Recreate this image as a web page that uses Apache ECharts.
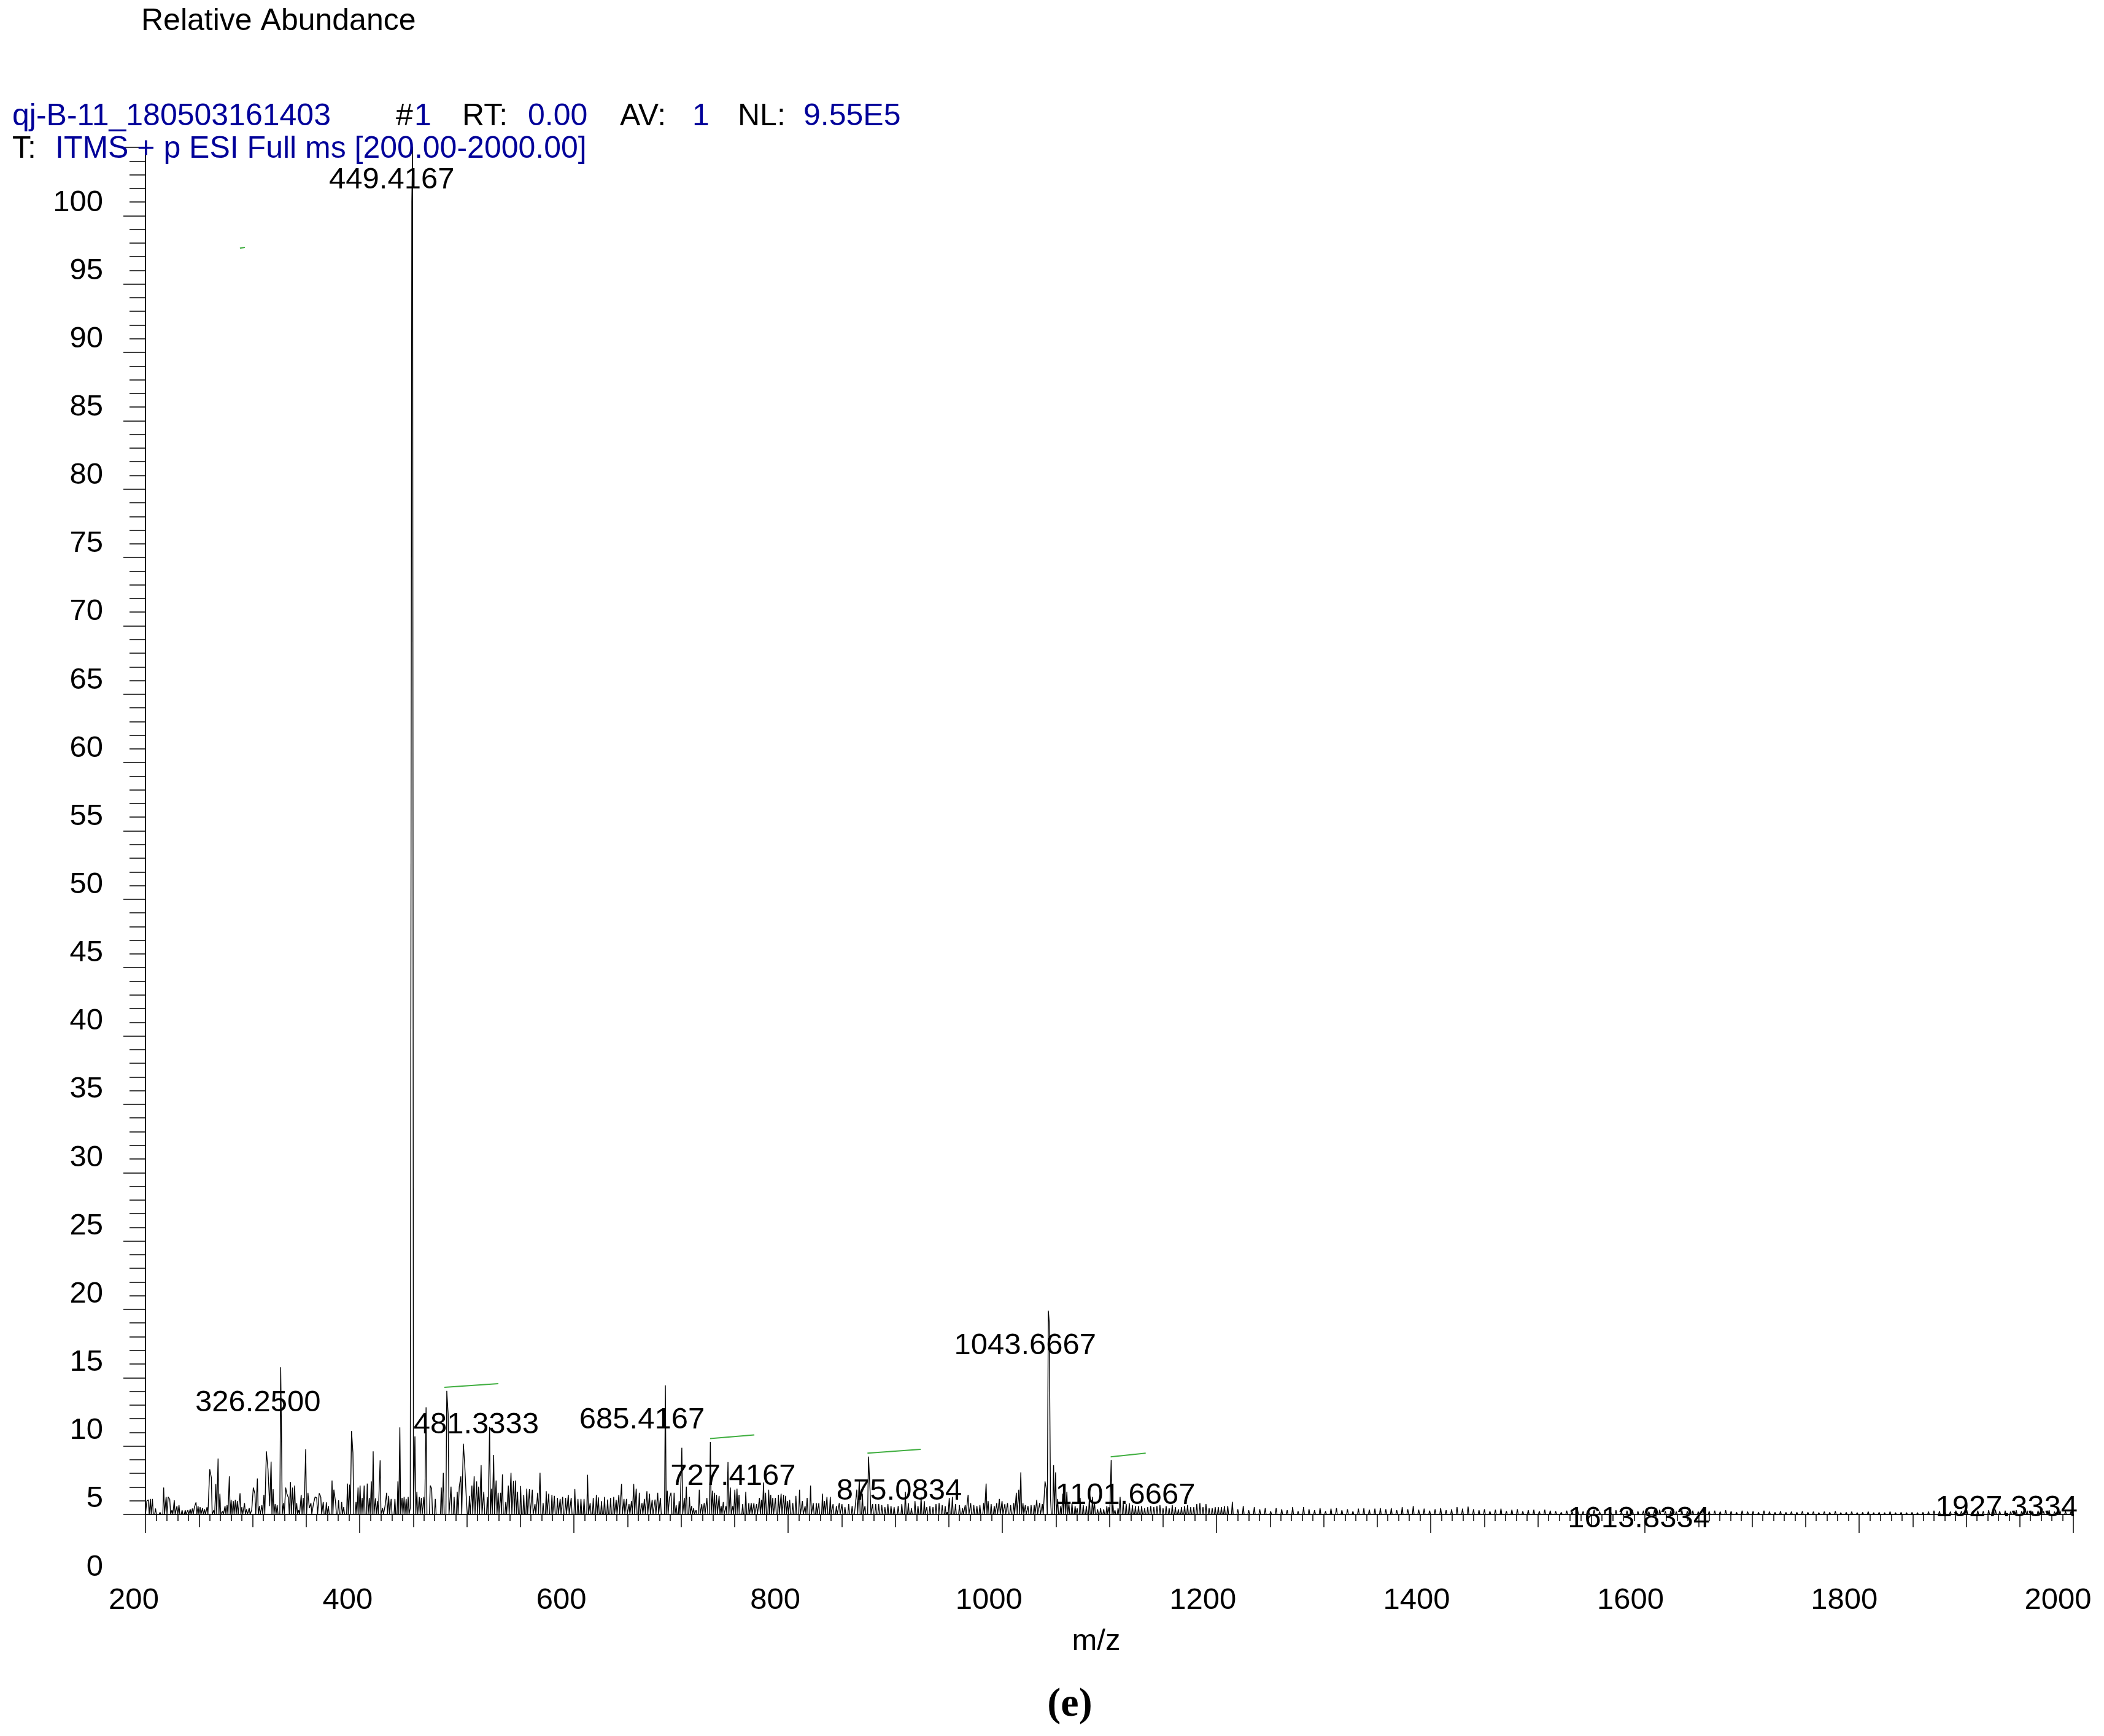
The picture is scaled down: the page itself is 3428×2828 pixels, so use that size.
<!DOCTYPE html>
<html>
<head>
<meta charset="utf-8">
<script src="https://cdn.jsdelivr.net/npm/echarts@6/dist/echarts.min.js"></script>
<style>
html,body{margin:0;padding:0;background:#fff;}
#chart{width:3428px;height:2828px;}
</style>
</head>
<body>
<div id="chart"></div>
<script>
// ---------------- DATA (m/z, relative abundance) ----------------
const zoneA = [
[201.3,0.98],[202.7,1.06],[204.6,1.13],[206.5,1.13],[209.4,0.43],[213.6,0.16],[217.0,1.96],[219.3,1.28],[221.2,1.28],[222.7,1.09],
[224.7,0.31],[226.9,1.03],[229.4,0.61],[231.3,0.68],[234.2,0.31],[237.1,0.31],[239.6,0.31],[241.8,0.38],[243.8,0.43],[245.7,0.53],
[247.2,0.88],[249.1,0.61],[251.0,0.53],[253.3,0.46],[255.2,0.38],[257.5,0.53],[260.0,3.30],[261.5,2.70],[263.8,0.31],[265.7,2.22],
[267.8,4.09],[269.5,1.51],[272.0,0.23],[274.3,0.61],[276.2,0.68],[278.3,2.78],[280.0,1.06],[282.0,0.98],[283.9,1.06],[285.8,0.98],
[288.3,1.55],[290.0,0.53],[292.5,0.83],[294.4,0.38],[296.9,0.46],[299.2,0.31],[300.7,1.96],[302.2,1.51],[304.5,2.63],[306.4,0.61],
[308.7,0.68],[310.6,1.43],[312.9,4.61],[314.4,3.30],[316.0,0.61],[317.3,3.86],[319.2,1.84],[321.1,0.76],[323.0,0.68],[326.25,10.76],
[326.9,6.67],[328.8,0.83],[330.9,1.96],[332.0,1.51],[333.5,1.21],[335.4,2.37],[337.4,1.96],[339.3,2.11],[341.2,0.83],[343.1,0.31],
[345.4,1.43],[347.3,1.21],[349.6,4.76],[351.7,1.58],[353.0,0.46],[354.5,0.83],[356.8,0.76],[358.4,1.28],[359.9,1.21],[362.2,1.55],
[363.7,1.28],[366.0,0.91],[368.9,0.88],[370.8,0.61],[374.2,2.48],[375.9,1.81],[377.5,0.88],[380.3,1.03],[383.2,0.91],[385.1,0.53],
[388.6,2.26],[390.5,2.18],[392.4,6.10],[393.7,4.50],[396.6,0.91],[398.5,1.96],[400.4,2.11],[402.3,1.21],[404.2,2.11],[407.1,2.26],
[409.0,1.21],[410.9,2.41],[412.6,4.61],[414.7,1.18],[416.6,0.98],[419.1,3.95],[421.4,0.46],[423.7,0.61],[425.2,1.58],[427.1,1.36],
[429.4,1.13],[432.9,1.13],[435.7,2.41],[437.5,6.37],[439.6,1.21],[441.5,1.28],[443.4,1.13],[445.3,1.28],[447.2,0.46],[448.7,96.0],
[449.42,100],[451.6,5.70]
];
const zoneB = [
[453.4,1.66],[455.7,1.28],[457.6,1.21],[459.9,1.28],[462.0,7.84],[465.9,2.11],[467.2,1.88],[470.6,1.13],[476.2,1.96],[478.1,3.04],
[481.33,9.04],[482.6,7.35],[485.3,2.03],[488.2,1.28],[491.1,1.66],[493.0,2.03],[494.5,2.78],[496.8,5.17],[498.1,3.60],[499.7,0.98],
[502.5,1.36],[504.8,2.11],[506.9,2.78],[509.2,2.41],[511.1,2.03],[513.4,3.60],[515.9,1.66],[519.2,1.28],[521.3,6.40],[523.0,1.88],
[525.1,4.35],[527.4,2.48],[529.3,1.58],[531.6,1.58],[533.3,2.93],[536.4,0.91],[538.8,2.11],[541.3,3.05],[543.6,2.45],[545.5,2.48],
[547.4,1.66],[550.3,2.08],[553.2,1.43],[556.0,1.88],[558.5,1.84],[561.2,1.81],[563.7,0.76],[566.2,1.58],[568.4,3.05],[571.3,0.83],
[574.2,1.69],[576.5,1.51],[579.5,1.43],[581.8,1.36],[584.7,1.21],[587.2,1.13],[589.5,1.28],[592.3,1.21],[594.8,1.43],[597.5,1.21],
[600.9,1.85],[603.8,1.13],[606.6,1.13],[609.5,1.13],[612.8,2.90],[615.2,0.83],[618.1,1.21],[621.0,1.43],[622.9,1.24],[625.8,0.98],
[628.6,1.28],[631.5,1.09],[634.3,1.21],[637.2,1.28],[639.5,1.06],[642.0,1.43],[644.5,2.23],[646.8,1.13],[649.1,1.13],[651.5,0.76],
[653.8,0.98],[655.9,2.23],[658.2,1.88],[661.1,1.58],[663.6,0.83],[665.9,1.13],[668.2,1.69],[670.6,1.51],[673.1,1.06],[675.8,1.09],
[678.3,1.58],[680.8,1.21],[685.42,9.44],[687.2,1.73],[689.2,1.21],[690.7,1.58],[693.6,1.58],[695.5,0.68],[698.3,0.98],[700.8,4.87],
[703.1,1.21],[705.0,2.03]
];
const zoneC = [
[707.9,1.28],[709.9,0.61],[711.8,0.46],[714.1,0.31],[717.1,1.81],[719.4,0.76],[721.7,0.83],[724.2,1.21],[727.42,5.30],[729.3,1.73],
[731.2,1.58],[733.2,1.43],[735.6,1.36],[737.5,0.61],[739.5,0.91],[742.0,0.61],[743.9,3.83],[746.1,1.96],[748.4,0.61],[750.3,1.81],
[752.3,1.88],[754.2,1.43],[757.6,0.76],[760.5,1.66],[763.3,0.83],[765.6,0.83],[768.1,0.83],[770.6,0.76],[773.3,1.21],[775.2,1.06],
[777.1,2.33],[779.0,1.58],[781.9,1.81],[783.8,1.43],[785.7,1.21],[788.2,1.21],[791.0,1.43],[793.5,1.51],[795.8,1.43],[797.7,1.36],
[799.6,0.98],[801.5,1.06],[804.4,0.83],[807.3,1.36],[810.7,1.81],[813.4,0.98],[815.9,0.61],[817.8,1.21],[821.0,2.11],[823.5,0.83],
[826.4,0.83],[828.7,0.83],[832.1,1.51],[834.0,0.98],[836.3,1.28],[839.4,1.28],[842.0,0.76],[845.1,0.61],[847.8,0.83],[850.3,0.76],
[853.1,0.53],[856.6,0.76],[859.8,0.61],[862.7,0.61],[864.2,1.81],[866.5,2.56],[869.4,1.51],[871.8,0.61],[875.08,4.23],[876.6,1.66],
[878.9,0.76],[881.8,0.76],[884.6,0.76],[887.5,0.68],[890.4,0.53],[893.2,0.76],[896.1,0.61],[899.0,0.53],[902.8,0.61],[906.2,0.76],
[909.5,1.66],[912.3,0.83],[915.2,0.46],[918.5,0.98],[921.3,0.61],[924.2,1.28],[927.2,0.98],[929.5,0.53],[932.4,0.61],[935.3,0.53],
[938.1,0.76],[941.0,0.83],[943.9,0.68],[946.7,0.61],[948.6,0.16],[950.5,1.21],[953.4,1.28],[956.3,0.76]
];
const zoneD = [
[960.0,0.68],[962.9,0.46],[965.4,0.68],[968.1,1.43],[970.5,0.83],[973.4,0.68],[976.3,0.61],[979.1,0.68],[982.6,0.83],[984.9,2.26],
[986.8,0.98],[989.6,0.76],[992.5,0.61],[994.8,0.83],[997.3,1.13],[999.8,0.98],[1002.4,0.76],[1004.9,0.83],[1007.8,0.68],[1010.7,0.83],
[1013.1,1.58],[1015.4,1.81],[1017.3,3.08],[1019.3,0.83],[1021.5,0.68],[1024.0,0.61],[1026.9,0.68],[1029.8,0.68],[1032.2,1.06],[1034.9,0.83],
[1037.4,0.76],[1039.9,2.41],[1041.2,1.81],[1043.0,14.9],[1043.8,14.1],[1045.0,1.21],[1047.9,3.60],[1049.8,3.08],[1051.7,1.13],[1054.6,0.61],
[1056.5,1.51],[1058.4,1.81],[1060.3,1.66],[1062.2,0.83],[1065.1,0.83],[1068.0,0.61],[1069.9,0.46],[1072.7,1.21],[1075.6,0.68],[1078.5,0.61],
[1081.3,1.21],[1084.2,1.28],[1086.1,0.91],[1089.0,0.38],[1091.8,0.46],[1094.7,0.38],[1097.6,0.61],[1099.5,0.53],[1101.67,3.98],[1103.3,0.76],
[1105.2,0.31],[1108.1,0.46],[1110.0,1.28],[1112.9,0.83],[1115.7,0.76],[1118.6,0.83],[1121.5,0.68],[1124.3,0.61],[1127.2,0.61],[1130.1,0.61],
[1132.9,0.46],[1135.8,0.53],[1138.6,0.61],[1141.5,0.53],[1144.4,0.61],[1147.2,0.68],[1150.1,0.46],[1153.0,0.61],[1155.8,0.46],[1158.7,0.68],
[1161.6,0.53],[1164.4,0.38],[1167.3,0.53],[1170.2,0.61],[1173.0,0.68],[1175.9,0.53],[1178.8,0.53],[1181.6,0.76],[1184.5,0.83],[1187.4,0.53],
[1190.2,0.76],[1193.1,0.46],[1196.0,0.46],[1198.8,0.53],[1201.7,0.53],[1204.6,0.53],[1207.4,0.61]
];
const zoneTail = [
[1210.5,0.61],[1214.8,0.92],[1219.9,0.38],[1225.0,0.61],[1230.1,0.31],[1235.3,0.53],[1240.4,0.38],[1245.5,0.46],[1250.6,0.23],[1255.7,0.46],
[1260.9,0.38],[1266.0,0.31],[1271.1,0.53],[1276.2,0.23],[1281.3,0.53],[1286.4,0.38],[1291.6,0.31],[1296.7,0.46],[1301.8,0.23],[1306.9,0.42],
[1312.0,0.46],[1317.1,0.31],[1322.3,0.38],[1327.4,0.23],[1332.5,0.42],[1337.6,0.46],[1342.7,0.34],[1347.9,0.42],[1353.0,0.46],[1358.1,0.38],
[1363.2,0.46],[1368.3,0.31],[1373.4,0.53],[1378.6,0.38],[1383.7,0.61],[1388.8,0.34],[1393.9,0.42],[1399.0,0.27],[1404.1,0.38],[1409.3,0.46],
[1414.4,0.31],[1419.5,0.38],[1424.6,0.53],[1429.7,0.42],[1434.9,0.57],[1440.0,0.38],[1445.1,0.31],[1450.2,0.38],[1455.3,0.23],[1460.4,0.34],
[1465.6,0.42],[1470.7,0.23],[1475.8,0.34],[1480.9,0.38],[1486.0,0.23],[1491.1,0.31],[1496.3,0.34],[1501.4,0.23],[1506.5,0.34],[1511.6,0.27],
[1516.7,0.23],[1521.9,0.16],[1527.0,0.27],[1532.1,0.20],[1537.2,0.31],[1542.3,0.23],[1547.4,0.27],[1552.6,0.34],[1557.7,0.20],[1562.8,0.27],
[1567.9,0.23],[1573.0,0.31],[1578.1,0.20],[1583.3,0.27],[1588.4,0.34],[1593.5,0.23],[1598.6,0.27],[1603.7,0.20],[1608.9,0.31],[1613.83,0.34],
[1619.1,0.23],[1624.2,0.27],[1629.3,0.20],[1634.5,0.31],[1639.6,0.23],[1644.7,0.27],[1649.8,0.20],[1654.9,0.31],[1660.0,0.23],[1665.2,0.27],
[1670.3,0.20],[1675.4,0.31],[1680.5,0.23],[1685.6,0.16],[1690.8,0.27],[1695.9,0.20],[1701.0,0.23],[1706.1,0.16],[1711.2,0.27],[1716.3,0.20],
[1721.5,0.16],[1726.6,0.23],[1731.7,0.16],[1736.8,0.20],[1741.9,0.16],[1747.0,0.23],[1752.2,0.16],[1757.3,0.20],[1762.4,0.13],[1767.5,0.20],
[1772.6,0.16],[1777.8,0.23],[1782.9,0.13],[1788.0,0.16],[1793.1,0.20],[1798.2,0.13],[1803.3,0.16],[1808.5,0.20],[1813.6,0.13],[1818.7,0.16],
[1823.8,0.13],[1828.9,0.20],[1834.0,0.13],[1839.2,0.16],[1844.3,0.13],[1849.4,0.16],[1854.5,0.13],[1859.6,0.16],[1864.8,0.20],[1869.9,0.27],
[1875.0,0.23],[1880.1,0.31],[1885.2,0.20],[1890.3,0.27],[1895.5,0.23],[1900.6,0.31],[1905.7,0.20],[1910.8,0.27],[1915.9,0.23],[1921.0,0.31],
[1927.33,0.34],[1931.3,0.23],[1936.4,0.27],[1941.5,0.20],[1946.7,0.31],[1951.8,0.23],[1956.9,0.27],[1962.0,0.20],[1967.1,0.27],[1972.2,0.23],
[1977.4,0.31],[1982.5,0.20],[1987.6,0.27],[1992.7,0.23],[1997.8,0.20]
];

// labelled peaks: text and apex intensity
const peakLabels = ['326.2500','449.4167','481.3333','685.4167','727.4167','875.0834','1043.6667','1101.6667','1613.8334','1927.3334'];
const peakLabelTop = [10.76, 100, 9.04, 9.44, 5.30, 4.23, 14.9, 3.98, 0.34, 0.34];

// green isotope markers: [startMz, startI, endMz, endI]
const greenMarks = [
  [479.1, 9.30, 529.5, 9.56],
  [727.2, 5.55, 768.5, 5.82],
  [874.1, 4.48, 923.8, 4.76],
  [1101.2, 4.21, 1133.9, 4.48],
  [288.2, 92.62, 292.8, 92.68]
];

// axis tick values
const xTickLabels = [200, 400, 600, 800, 1000, 1200, 1400, 1600, 1800, 2000];
const yTickLabels = [0, 5, 10, 15, 20, 25, 30, 35, 40, 45, 50, 55, 60, 65, 70, 75, 80, 85, 90, 95, 100];

// ---------------- LAYOUT / STYLE ----------------
const labelOffsets = [[-37,58],[-34,53],[48,56],[-38,57],[37,57],[50,57],[-39,57],[23,58],[-34,15],[18,-3]];
const FONT = "'Liberation Sans', Arial, Helvetica, sans-serif";
const BLUE = '#000099';
const PEAK_HALF_WIDTH = 0.8;

function buildProfile(peaks) {
  const pts = [[200, 0]];
  for (let i = 0; i < peaks.length; i++) {
    const m = peaks[i][0], h = peaks[i][1];
    const prev = i > 0 ? peaks[i-1][0] : -Infinity;
    const next = i < peaks.length - 1 ? peaks[i+1][0] : Infinity;
    if (prev < m - 2*PEAK_HALF_WIDTH) pts.push([m - PEAK_HALF_WIDTH, 0]);
    pts.push([m, h]);
    if (next > m + 2*PEAK_HALF_WIDTH) pts.push([m + PEAK_HALF_WIDTH, 0]);
  }
  pts.push([2000, 0]);
  return pts;
}

const allPeaks = [].concat(zoneA, zoneB, zoneC, zoneD, zoneTail);
const profile = buildProfile(allPeaks);

const labelData = peakLabels.map((t, i) => ({
  value: [parseFloat(t), peakLabelTop[i]],
  label: { offset: labelOffsets[i], formatter: t }
}));

const chart = echarts.init(document.getElementById('chart'), null, {renderer: 'canvas'});

const headerItems = [
  {t: 'Relative Abundance', x: 230, y: 35, c: '#000'},
  {t: 'qj-B-11_180503161403', x: 20, y: 190, c: BLUE},
  {t: '#', x: 645, y: 190, c: '#000'},
  {t: '1', x: 675, y: 190, c: BLUE},
  {t: 'RT:', x: 753, y: 190, c: '#000'},
  {t: '0.00', x: 860, y: 190, c: BLUE},
  {t: 'AV:', x: 1010, y: 190, c: '#000'},
  {t: '1', x: 1128, y: 190, c: BLUE},
  {t: 'NL:', x: 1202, y: 190, c: '#000'},
  {t: '9.55E5', x: 1309, y: 190, c: BLUE},
  {t: 'T:', x: 20, y: 243, c: '#000'},
  {t: 'ITMS + p ESI Full ms [200.00-2000.00]', x: 90, y: 243, c: BLUE}
];

const graphics = headerItems.map(h => ({
  type: 'text', x: h.x, y: h.y, z: 100,
  style: {text: h.t, fill: h.c, font: '50px ' + FONT, textVerticalAlign: 'middle', verticalAlign: 'middle'}
}));
graphics.push({
  type: 'text', x: 1786, y: 2674, z: 100,
  style: {text: 'm/z', fill: '#000', font: '49px ' + FONT, textAlign: 'center', align: 'center', textVerticalAlign: 'middle', verticalAlign: 'middle'}
});
graphics.push({
  type: 'text', x: 1743, y: 2778, z: 100,
  style: {text: '(e)', fill: '#000', font: 'bold 66px "Liberation Serif", "Times New Roman", serif', textAlign: 'center', align: 'center', textVerticalAlign: 'middle', verticalAlign: 'middle'}
});

const tickStyle = {color: '#000', width: 1.5};

const option = {
  backgroundColor: '#fff',
  animation: false,
  graphic: graphics,
  grid: [
    {left: 237, right: 50, top: 240, bottom: 361, outerBoundsMode: 'none', containLabel: false},
    {left: 218, right: 50, top: 240, bottom: 275, outerBoundsMode: 'none', containLabel: false}
  ],
  xAxis: [
    {gridIndex: 0, type: 'value', min: 200, max: 2000, interval: 200, position: 'bottom', offset: 0,
     axisLine: {show: true, onZero: false, lineStyle: {color: '#000', width: 2}},
     axisTick: {show: true, length: 30, lineStyle: tickStyle},
     minorTick: {show: true, splitNumber: 4, length: 21, lineStyle: tickStyle},
     axisLabel: {show: false}, splitLine: {show: false}, minorSplitLine: {show: false}},
    {gridIndex: 0, type: 'value', min: 200, max: 2000, interval: 10, position: 'bottom', offset: 0,
     axisLine: {show: false, onZero: false},
     axisTick: {show: true, length: 11, lineStyle: tickStyle},
     axisLabel: {show: false}, splitLine: {show: false}},
    {gridIndex: 1, type: 'value', min: 200, max: 200 + 3160 / 1.7417, interval: 200, position: 'bottom',
     axisLine: {show: false, onZero: false}, axisTick: {show: false}, splitLine: {show: false},
     axisLabel: {show: true, margin: 30, fontSize: 49, fontFamily: FONT, color: '#000',
       formatter: v => (xTickLabels.indexOf(Math.round(v)) >= 0 && Math.abs(v - Math.round(v)) < 1e-6) ? String(Math.round(v)) : ''}}
  ],
  yAxis: [
    {gridIndex: 0, type: 'value', min: 0, max: 100, interval: 5,
     axisLine: {show: true, onZero: false, lineStyle: {color: '#000', width: 2}},
     axisTick: {show: true, length: 36, lineStyle: tickStyle},
     minorTick: {show: true, splitNumber: 5, length: 26, lineStyle: tickStyle},
     axisLabel: {show: false}, splitLine: {show: false}, minorSplitLine: {show: false}},
    {gridIndex: 1, type: 'value', min: 0, max: (2553 - 240) / 22.23, interval: 5,
     axisLine: {show: false, onZero: false}, axisTick: {show: false}, splitLine: {show: false},
     axisLabel: {show: true, margin: 50, fontSize: 49, fontFamily: FONT, color: '#000',
       formatter: v => (yTickLabels.indexOf(Math.round(v)) >= 0 && Math.abs(v - Math.round(v)) < 1e-6) ? String(Math.round(v)) : ''}}
  ],
  series: [
    {type: 'line', xAxisIndex: 0, yAxisIndex: 0, data: profile, showSymbol: false, symbol: 'none',
     lineStyle: {color: '#000', width: 1.4}, sampling: null, silent: true, z: 3},
    {type: 'lines', coordinateSystem: 'cartesian2d', xAxisIndex: 0, yAxisIndex: 0, silent: true, z: 4,
     lineStyle: {color: '#3fae3f', width: 2, opacity: 1},
     data: greenMarks.map(g => ({coords: [[g[0], g[1]], [g[2], g[3]]]}))},
    {type: 'scatter', xAxisIndex: 0, yAxisIndex: 0, symbol: 'circle', symbolSize: 0.01, silent: true, z: 5,
     itemStyle: {color: '#000', opacity: 1},
     label: {show: true, position: 'inside', fontSize: 49, fontFamily: FONT, color: '#000', opacity: 1,
             textBorderWidth: 0, textBorderColor: 'transparent', textShadowBlur: 0},
     data: labelData}
  ]
};
chart.setOption(option);
</script>
</body>
</html>
